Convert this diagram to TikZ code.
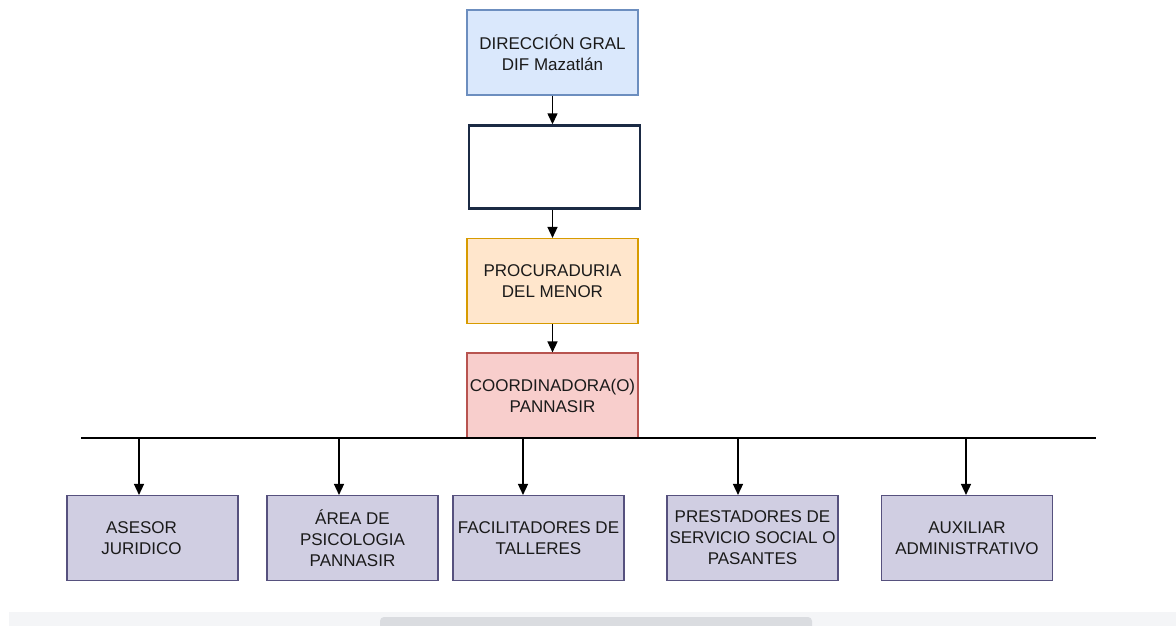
\documentclass[tikz,border=0pt]{standalone}
\usepackage{fontspec}
\setmainfont{Liberation Sans}
\usetikzlibrary{arrows.meta}
\definecolor{bluefill}{HTML}{DAE8FC}
\definecolor{blueline}{HTML}{6C8EBF}
\definecolor{navyline}{HTML}{1B2A44}
\definecolor{orfill}{HTML}{FFE6CC}
\definecolor{orline}{HTML}{D79B00}
\definecolor{redfill}{HTML}{F8CECC}
\definecolor{redline}{HTML}{B85450}
\definecolor{purfill}{HTML}{D0CEE2}
\definecolor{purline}{HTML}{56517E}
\definecolor{txt}{HTML}{1A1A1A}
\definecolor{barbg}{HTML}{F4F5F7}
\definecolor{barthumb}{HTML}{DADCE0}
\tikzset{
  box/.style={draw, line width=1.1pt, minimum width=171pt, minimum height=85pt, inner sep=0pt,
    align=center, text=txt, font=\fontsize{17pt}{21pt}\selectfont},
  conn/.style={draw=black, line width=1.4pt, -{Triangle[length=11pt,width=10pt]}},
}
\begin{document}
\begin{tikzpicture}[x=1pt,y=-1pt]
\useasboundingbox (0,0) rectangle (1176,626);
\fill[white] (0,0) rectangle (1176,626);
% scrollbar
\fill[barbg] (9,612) rectangle (1176,626);
\fill[barthumb, rounded corners=4pt] (380,617) rectangle (812,630);
% top chain
\node[box, fill=bluefill, draw=blueline] (dir) at (552.5,52.5) {DIRECCIÓN GRAL\\DIF Mazatlán};
\node[box, fill=white, draw=navyline, line width=2.4pt, minimum width=171pt, minimum height=83pt] (empty) at (554.5,167) {};
\node[box, fill=orfill, draw=orline] (proc) at (552.5,281) {PROCURADURIA\\DEL MENOR};
\node[box, fill=redfill, draw=redline] (coord) at (552.5,395.5) {COORDINADORA(O)\\PANNASIR};
\draw[conn] (dir.south) -- (dir.south |- empty.north);
\draw[conn] (empty.south -| proc.north) -- (proc.north);
\draw[conn] (proc.south) -- (coord.north);
% bus line
\coordinate (busL) at (81,438);
\coordinate (busR) at (1096,438);
\draw[line width=1.4pt] (busL) -- (busR);
% bottom boxes
\node[box, fill=purfill, draw=purline] (ases) at (152.5,538) {ASESOR\hspace*{22pt}\\JURIDICO\hspace*{22pt}};
\node[box, fill=purfill, draw=purline] (psic) at (352.5,538) {ÁREA DE\\PSICOLOGIA\\PANNASIR};
\node[box, fill=purfill, draw=purline] (fac) at (538.5,538) {FACILITADORES DE\\TALLERES};
\node[box, fill=purfill, draw=purline] (prest) at (752.5,538) {PRESTADORES DE\\SERVICIO SOCIAL O\\PASANTES};
\node[box, fill=purfill, draw=purline] (aux) at (967,538) {AUXILIAR\\ADMINISTRATIVO};
\coordinate (t1) at (139,438);
\coordinate (t2) at (339,438);
\coordinate (t3) at (523,438);
\coordinate (t4) at (738,438);
\coordinate (t5) at (966,438);
\draw[conn] (t1) -- (t1 |- ases.north);
\draw[conn] (t2) -- (t2 |- psic.north);
\draw[conn] (t3) -- (t3 |- fac.north);
\draw[conn] (t4) -- (t4 |- prest.north);
\draw[conn] (t5) -- (t5 |- aux.north);
\end{tikzpicture}
\end{document}
